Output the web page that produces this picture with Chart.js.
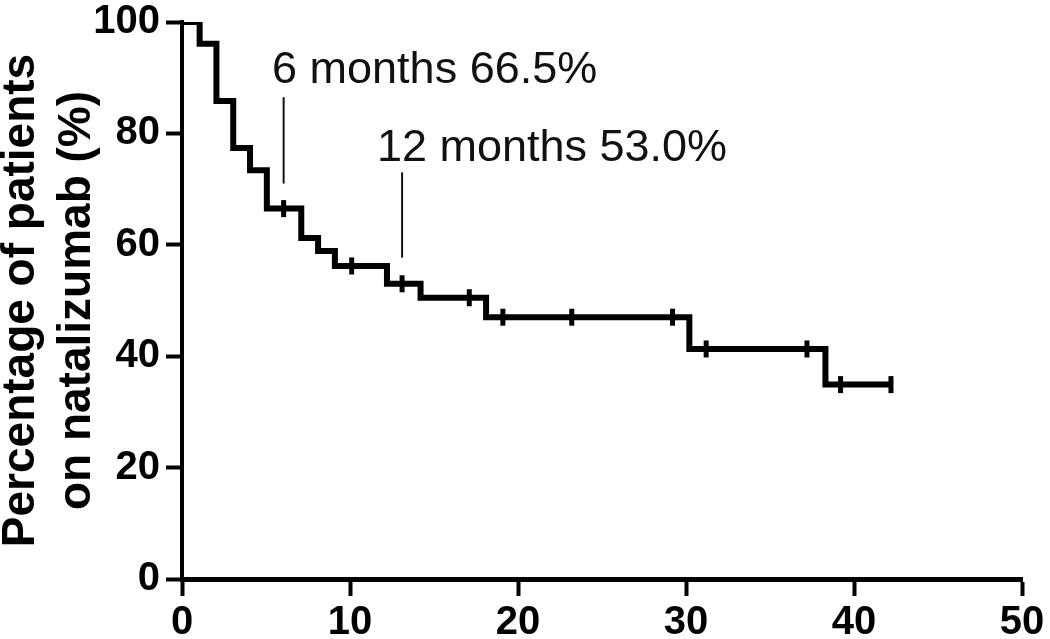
<!DOCTYPE html>
<html>
<head>
<meta charset="utf-8">
<title>Natalizumab persistence</title>
<script src="https://cdn.jsdelivr.net/npm/chart.js@4/dist/chart.umd.min.js"></script>
<style>
    html, body { margin: 0; padding: 0; background: #fff; overflow: hidden; }
    #wrap { width: 1050px; height: 639px; overflow: hidden; }
</style>
</head>
<body>
<div id="wrap"><canvas id="kmChart" width="1050" height="650"></canvas></div>
<script>
// Kaplan-Meier curve (months, % still on treatment)
const stepMonths = [0, 1.05, 2.05, 3.05, 4.05, 5.05, 7.1, 8.1, 9.1, 12.2, 14.2, 18.1, 30.2, 38.3, 42.2];
const stepPercent = [100, 96.1, 85.8, 77.4, 73.4, 66.5, 61.2, 58.9, 56.2, 53.0, 50.5, 47.0, 41.3, 34.9, 34.9];

// censored patients (tick marks on the curve)
const censorMonths = [6.05, 10.1, 13.1, 17.1, 19.1, 23.2, 29.2, 31.2, 37.2, 39.2, 42.2];
const censorPercent = [66.5, 56.2, 53.0, 50.5, 47.0, 47.0, 47.0, 41.3, 41.3, 34.9, 34.9];

const xTicks = [0, 10, 20, 30, 40, 50];
const yTicks = [0, 20, 40, 60, 80, 100];
const yTitle = ['Percentage of patients', 'on natalizumab (%)'];

const FONT = "'Liberation Sans', Arial, Helvetica, sans-serif";

// callouts for 6 and 12 months
const callouts = [
    { label: '6 months 66.5%', textX: 5.36, textY: 89.0, lineX: 6.05, lineFrom: 71, lineTo: 86.5 },
    { label: '12 months 53.0%', textX: 11.6, textY: 75.1, lineX: 13.1, lineFrom: 57.7, lineTo: 73 }
];

const calloutPlugin = {
    id: 'callouts',
    afterDatasetsDraw(chart) {
        const ctx = chart.ctx;
        const x = chart.scales.x;
        const y = chart.scales.y;
        ctx.save();
        callouts.forEach(c => {
            ctx.strokeStyle = '#111';
            ctx.lineWidth = 2;
            ctx.beginPath();
            ctx.moveTo(x.getPixelForValue(c.lineX), y.getPixelForValue(c.lineTo));
            ctx.lineTo(x.getPixelForValue(c.lineX), y.getPixelForValue(c.lineFrom));
            ctx.stroke();

            ctx.fillStyle = '#111';
            ctx.font = '45px ' + FONT;
            ctx.textAlign = 'left';
            ctx.textBaseline = 'alphabetic';
            ctx.fillText(c.label, x.getPixelForValue(c.textX), y.getPixelForValue(c.textY));
        });
        ctx.restore();
    }
};

const ctx = document.getElementById('kmChart');

new Chart(ctx, {
    type: 'line',
    data: {
        datasets: [
            {
                label: 'On natalizumab',
                data: stepMonths.map((m, i) => ({ x: m, y: stepPercent[i] })),
                stepped: 'before',
                borderColor: '#000',
                borderWidth: 6,
                pointRadius: 0,
                fill: false
            },
            {
                label: 'Censored',
                data: censorMonths.map((m, i) => ({ x: m, y: censorPercent[i] })),
                showLine: false,
                pointStyle: 'line',
                rotation: 90,
                pointRadius: 8.5,
                pointBorderWidth: 5,
                borderColor: '#000',
                backgroundColor: '#000'
            }
        ]
    },
    options: {
        responsive: false,
        animation: false,
        devicePixelRatio: 1,
        layout: { padding: { top: 17, right: 28, bottom: 0, left: 0 } },
        plugins: {
            legend: { display: false },
            tooltip: { enabled: false }
        },
        scales: {
            x: {
                type: 'linear',
                min: 0,
                max: 50,
                afterBuildTicks: axis => { axis.ticks = xTicks.map(v => ({ value: v })); },
                afterFit: axis => { axis.height = 71; },
                ticks: {
                    color: '#000',
                    padding: 3,
                    font: { family: FONT, size: 40, weight: 'bold' }
                },
                grid: {
                    drawOnChartArea: false,
                    tickLength: 17,
                    tickWidth: 4,
                    tickColor: '#000'
                },
                border: { display: true, width: 5, color: '#000' }
            },
            y: {
                type: 'linear',
                min: 0,
                max: 100,
                afterBuildTicks: axis => { axis.ticks = yTicks.map(v => ({ value: v })); },
                afterFit: axis => { axis.width = 182; },
                ticks: {
                    color: '#000',
                    padding: 6,
                    font: { family: FONT, size: 40, weight: 'bold', lineHeight: 0.8 }
                },
                grid: {
                    drawOnChartArea: false,
                    tickLength: 16,
                    tickWidth: 4,
                    tickColor: '#000'
                },
                border: { display: true, width: 4, color: '#000' },
                title: {
                    display: true,
                    text: yTitle,
                    color: '#000',
                    padding: { top: -7, bottom: 0 },
                    font: { family: FONT, size: 46, weight: 'bold', lineHeight: 1.217 }
                }
            }
        }
    },
    plugins: [calloutPlugin]
});
</script>
</body>
</html>
